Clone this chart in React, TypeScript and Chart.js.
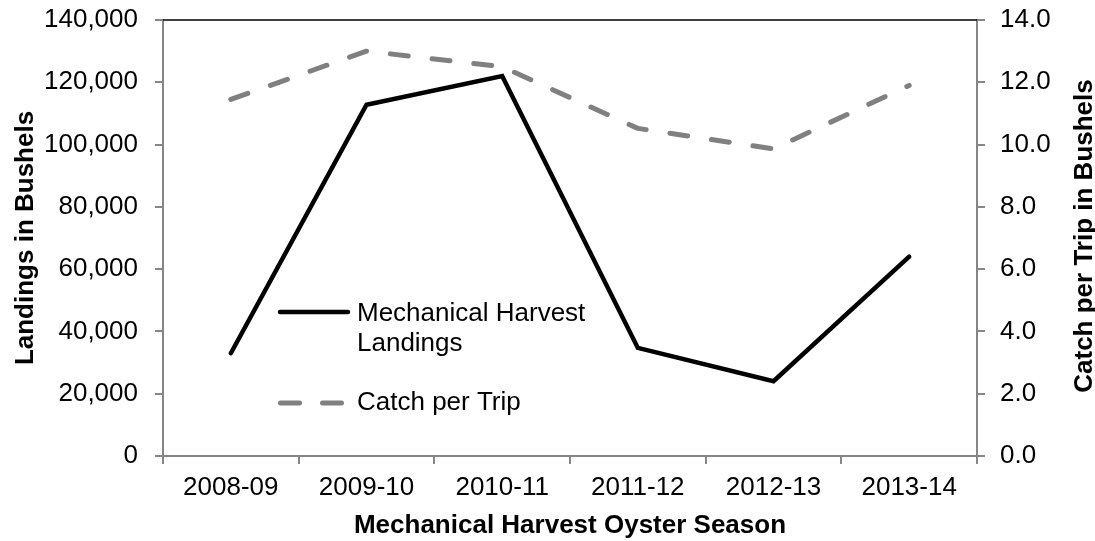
import React, { useEffect, useRef } from "react";
import { Chart, registerables } from "chart.js";

Chart.register(...registerables);

const seasons = ["2008-09", "2009-10", "2010-11", "2011-12", "2012-13", "2013-14"];
const landings = [33000, 112800, 122000, 34700, 24000, 64000];
const catchPerTrip = [11.45, 13.0, 12.5, 10.52, 9.86, 11.9];

const landingsTicks = [0, 20000, 40000, 60000, 80000, 100000, 120000, 140000];
const catchTicks = [0, 2, 4, 6, 8, 10, 12, 14];

const xTitle = "Mechanical Harvest Oyster Season";
const yTitle = "Landings in Bushels";
const y1Title = "Catch per Trip in Bushels";
const legendLandings = ["Mechanical Harvest", "Landings"];
const legendCatch = "Catch per Trip";

const FONT = "'Liberation Sans', Arial, sans-serif";
const AXIS = "#868686";
const DASH = [18, 24];

const overlay = {
  id: "overlay",
  beforeDatasetsDraw(chart: any) {
    const { ctx, chartArea } = chart;
    ctx.save();
    ctx.strokeStyle = "#000";
    ctx.lineWidth = 1.5;
    ctx.beginPath();
    ctx.moveTo(chartArea.left, chartArea.top);
    ctx.lineTo(chartArea.right, chartArea.top);
    ctx.stroke();
    ctx.restore();
  },
  afterDraw(chart: any) {
    const { ctx, chartArea } = chart;
    ctx.save();
    ctx.fillStyle = "#000";
    ctx.font = `bold 26px ${FONT}`;
    ctx.textBaseline = "alphabetic";
    ctx.textAlign = "center";
    const cx = (chartArea.left + chartArea.right) / 2;
    const cy = (chartArea.top + chartArea.bottom) / 2;
    ctx.fillText(xTitle, cx, 533);

    ctx.save();
    ctx.translate(33, cy);
    ctx.rotate(-Math.PI / 2);
    ctx.fillText(yTitle, 0, 0);
    ctx.restore();

    ctx.save();
    ctx.translate(1092, cy - 2);
    ctx.rotate(-Math.PI / 2);
    ctx.fillText(y1Title, 0, 0);
    ctx.restore();

    // legend
    ctx.lineCap = "round";
    ctx.strokeStyle = "#000";
    ctx.lineWidth = 4.5;
    ctx.beginPath();
    ctx.moveTo(280, 312);
    ctx.lineTo(348, 312);
    ctx.stroke();

    ctx.strokeStyle = "#808080";
    ctx.lineWidth = 5;
    ctx.setLineDash([19, 23]);
    ctx.beginPath();
    ctx.moveTo(280.5, 403);
    ctx.lineTo(341.5, 403);
    ctx.stroke();
    ctx.setLineDash([]);

    ctx.font = `26px ${FONT}`;
    ctx.textAlign = "left";
    ctx.fillText(legendLandings[0], 357, 321);
    ctx.fillText(legendLandings[1], 357, 351);
    ctx.fillText(legendCatch, 357, 410);
    ctx.restore();
  },
};

export default function App() {
  const ref = useRef<HTMLCanvasElement>(null);
  useEffect(() => {
    if (!ref.current) return;
    const tickFont = { family: FONT, size: 26 };
    const chart = new Chart(ref.current, {
      type: "line",
      data: {
        labels: seasons,
        datasets: [
          {
            label: "Catch per Trip",
            data: catchPerTrip,
            yAxisID: "y1",
            borderColor: "#808080",
            borderWidth: 5,
            borderDash: DASH,
            borderCapStyle: "round",
            borderJoinStyle: "round",
            pointRadius: 0,
            tension: 0,
            fill: false,
          },
          {
            label: "Mechanical Harvest Landings",
            data: landings,
            yAxisID: "y",
            borderColor: "#000000",
            borderWidth: 4.5,
            borderCapStyle: "round",
            borderJoinStyle: "miter",
            pointRadius: 0,
            tension: 0,
            fill: false,
          },
        ],
      },
      options: {
        animation: false,
        responsive: true,
        maintainAspectRatio: false,
        layout: { padding: { top: 20, left: 0, right: 0, bottom: 0 } },
        plugins: {
          legend: { display: false },
          tooltip: { enabled: false },
          title: { display: false },
        },
        scales: {
          x: {
            type: "category",
            offset: true,
            grid: {
              display: true,
              offset: true,
              drawOnChartArea: false,
              drawTicks: true,
              tickLength: 8,
              color: AXIS,
              lineWidth: 2,
            },
            border: { display: true, color: AXIS, width: 2 },
            ticks: { font: tickFont, color: "#000", padding: 8, maxRotation: 0, autoSkip: false },
            afterFit: (s: any) => {
              s.height = 85;
              s.paddingLeft = 0;
              s.paddingRight = 0;
            },
          },
          y: {
            type: "linear",
            position: "left",
            min: 0,
            max: 140000,
            afterBuildTicks: (s: any) => {
              s.ticks = landingsTicks.map((v) => ({ value: v }));
            },
            grid: {
              display: true,
              drawOnChartArea: false,
              drawTicks: true,
              tickLength: 8,
              color: AXIS,
              lineWidth: 2,
            },
            border: { display: true, color: AXIS, width: 2 },
            ticks: {
              font: tickFont,
              color: "#000",
              padding: 17,
              callback: (v: any) => Number(v).toLocaleString("en-US"),
            },
            afterFit: (s: any) => {
              s.width = 163;
              s.paddingTop = 0;
              s.paddingBottom = 0;
            },
          },
          y1: {
            type: "linear",
            position: "right",
            min: 0,
            max: 14,
            afterBuildTicks: (s: any) => {
              s.ticks = catchTicks.map((v) => ({ value: v }));
            },
            grid: {
              display: true,
              drawOnChartArea: false,
              drawTicks: true,
              tickLength: 8,
              color: AXIS,
              lineWidth: 2,
            },
            border: { display: true, color: AXIS, width: 2 },
            ticks: {
              font: tickFont,
              color: "#000",
              padding: 15,
              callback: (v: any) => Number(v).toFixed(1),
            },
            afterFit: (s: any) => {
              s.width = 118;
              s.paddingTop = 0;
              s.paddingBottom = 0;
            },
          },
        },
      },
      plugins: [overlay],
    } as any);
    return () => chart.destroy();
  }, []);

  return (
    <div style={{ position: "absolute", left: 0, top: 0, width: 1095, height: 541, background: "#fff" }}>
      <canvas ref={ref} />
    </div>
  );
}
